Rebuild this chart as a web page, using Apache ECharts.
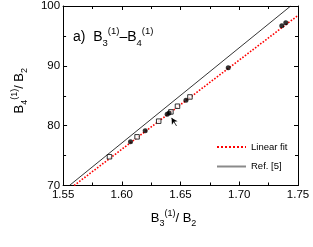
<!DOCTYPE html>
<html><head><meta charset="utf-8">
<script src="https://cdn.jsdelivr.net/npm/echarts@6/dist/echarts.min.js"></script>
<style>html,body{margin:0;padding:0;background:#fff}#c{width:313px;height:247px}</style>
</head><body><div id="c"></div>
<script>
// Data
const filledX = [1.6074, 1.6199, 1.6386, 1.6402, 1.6546, 1.6906, 1.7362, 1.7396];
const filledY = [77.3, 79.13, 81.92, 82.13, 84.25, 89.7, 96.7, 97.2];
const openX = [1.5895, 1.6130, 1.6314, 1.6418, 1.6474, 1.6580];
const openY = [74.8, 78.13, 80.75, 82.3, 83.25, 84.8];
const fitX = [1.5594, 1.75];
const fitY = [70, 98.42];
const refX = [1.5554, 1.7438];
const refY = [70, 100];
const arrowFrom = [1.6466, 79.95];
const arrowTo = [1.6424, 81.3];
const xTicks = [1.55, 1.60, 1.65, 1.70, 1.75];
const yTicks = [70, 80, 90, 100];

const zip = (a, b) => a.map((v, i) => [v, b[i]]);
const FONT = 'Liberation Sans, Arial, sans-serif';
const richBase = {
  b: {fontSize: 13, fontFamily: FONT, color: '#000', lineHeight: 22, verticalAlign: 'middle'},
  sub: {fontSize: 9, fontFamily: FONT, color: '#000', lineHeight: 22, verticalAlign: 'bottom', padding: [0, 0, 1, 0]},
  sup: {fontSize: 9, fontFamily: FONT, color: '#000', lineHeight: 22, verticalAlign: 'top', padding: [2, 0, 0, 0]}
};

const chart = echarts.init(document.getElementById('c'), null, {renderer: 'canvas'});
const axisCommon = {
  axisLine: {show: true, onZero: false, lineStyle: {color: '#000', width: 1}},
  axisTick: {show: true, inside: true, length: 4, lineStyle: {color: '#000'}},
  minorTick: {show: true, splitNumber: 2, length: 3, lineStyle: {color: '#000'}},
  splitLine: {show: false}
};
chart.setOption({
  animation: false,
  backgroundColor: '#fff',
  grid: {left: 48, top: 5.5, width: 250, height: 180, containLabel: false},
  title: {
    text: 'a)  {b|B}{sub|3}{sup|(1)}{b|–B}{sub|4}{sup|(1)}',
    left: 68, top: 20,
    textStyle: {fontSize: 14, fontFamily: FONT, color: '#000', fontWeight: 'normal',
      rich: {
        b: {fontSize: 14, fontFamily: FONT, color: '#000', lineHeight: 24, verticalAlign: 'middle'},
        sub: {fontSize: 9.5, fontFamily: FONT, color: '#000', lineHeight: 24, verticalAlign: 'bottom', padding: [0, 0, 1, 0]},
        sup: {fontSize: 9.5, fontFamily: FONT, color: '#000', lineHeight: 24, verticalAlign: 'top', padding: [1, 0, 0, 0]}
      }}
  },
  legend: {
    orient: 'vertical', left: 211, top: 137, itemWidth: 29, itemHeight: 10, itemGap: 9.5,
    textStyle: {fontSize: 9.5, fontFamily: FONT, color: '#000'},
    itemStyle: {opacity: 0},
    data: [
      {name: 'Linear fit', itemStyle: {opacity: 0}},
      {name: 'Ref. [5]', itemStyle: {opacity: 0}, lineStyle: {color: '#8a8a8a', width: 2}}
    ]
  },
  xAxis: [
    Object.assign({}, axisCommon, {
      type: 'value', min: 1.55, max: 1.75, interval: 0.05, position: 'bottom',
      axisLabel: {fontSize: 11.5, fontFamily: FONT, color: '#000', margin: 3,
        formatter: v => { const t = xTicks.find(k => Math.abs(k - v) < 1e-9); return t === undefined ? '' : t.toFixed(2); }},
      name: '{b|B}{sub|3}{sup|(1)}{b|/ B}{sub|2}', nameLocation: 'middle', nameGap: 22,
      nameTextStyle: {padding: [0, 14, 0, 0], rich: richBase}
    }),
    Object.assign({}, axisCommon, {
      type: 'value', min: 1.55, max: 1.75, interval: 0.05, position: 'top', axisLabel: {show: false}
    })
  ],
  yAxis: [
    Object.assign({}, axisCommon, {
      type: 'value', min: 70, max: 100, interval: 10, position: 'left',
      axisLabel: {fontSize: 11.5, fontFamily: FONT, color: '#000', margin: 3,
        formatter: v => yTicks.includes(v) ? String(v) : ''},
      name: '{b|B}{sub|4}{sup|(1)}{b|/ B}{sub|2}', nameLocation: 'middle', nameGap: 20,
      nameTextStyle: {padding: [0, 0, 0, 10], rich: richBase}
    }),
    Object.assign({}, axisCommon, {
      type: 'value', min: 70, max: 100, interval: 10, position: 'right', axisLabel: {show: false}
    })
  ],
  series: [
    {name: 'Ref. [5]', type: 'line', data: zip(refX, refY), symbol: 'none', color: '#000',
      lineStyle: {color: '#000', width: 0.8}, z: 2},
    {name: 'Linear fit', type: 'line', data: zip(fitX, fitY), symbol: 'none', color: '#ff0000',
      lineStyle: {color: '#ff0000', width: 1.6, type: 'dotted'}, z: 3,
      markLine: {silent: true, symbol: ['none', 'arrow'], symbolSize: [5, 6],
        label: {show: false}, lineStyle: {color: '#000', width: 0.8, type: 'solid'},
        data: [[{coord: arrowFrom}, {coord: arrowTo}]]}},
    {name: 'open', type: 'scatter', data: zip(openX, openY), symbol: 'rect', symbolSize: 4.5,
      itemStyle: {color: '#fff', borderColor: '#000', borderWidth: 1}, z: 5},
    {name: 'filled', type: 'scatter', data: zip(filledX, filledY), symbol: 'circle', symbolSize: 5,
      itemStyle: {color: '#000'}, z: 6}
  ]
});
</script></body></html>
